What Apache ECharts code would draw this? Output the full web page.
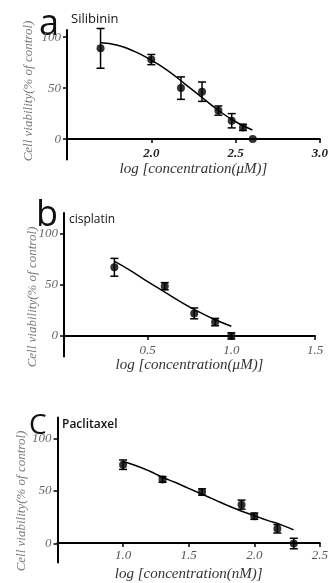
<!DOCTYPE html>
<html>
<head>
<meta charset="utf-8">
<script src="https://cdn.jsdelivr.net/npm/echarts@6/dist/echarts.min.js"></script>
<style>
html, body { margin: 0; padding: 0; background: #fff; }
#chart { width: 331px; height: 583px; }
</style>
</head>
<body>
<div id="chart"></div>
<script>
// a: silibinin, log uM
var silX = [1.699, 2.0, 2.176, 2.301, 2.398, 2.477, 2.544, 2.602];
var silY = [89, 78, 50, 46.5, 28, 18, 11.5, 0];
var silErr = [19.5, 5, 11, 9.5, 4.5, 7, 3, 0];
var silFitX = [1.7, 1.8, 1.9, 2.0, 2.1, 2.2, 2.3, 2.4, 2.5, 2.6];
var silFitY = [94.5, 92, 86, 77.5, 67, 54, 41, 28, 17, 9];
var silTicks = [2.0, 2.5, 3.0];

// b: cisplatin, log uM
var cisX = [0.301, 0.602, 0.778, 0.903, 1.0];
var cisY = [67, 48.5, 22, 13.5, 0];
var cisErr = [8.7, 3.5, 5.3, 3.6, 3];
var cisFitX = [0.3, 0.4, 0.5, 0.6, 0.7, 0.8, 0.9, 1.0];
var cisFitY = [73, 63.5, 53, 43, 33, 24, 16, 9.5];
var cisTicks = [0.5, 1.0, 1.5];

// c: paclitaxel, log nM
var pacX = [1.0, 1.301, 1.602, 1.903, 2.0, 2.176, 2.301];
var pacY = [75, 61, 49, 37, 26, 14, 0];
var pacErr = [4.5, 2.7, 3, 4.3, 3, 4, 5];
var pacFitX = [1.0, 1.1, 1.2, 1.3, 1.4, 1.5, 1.6, 1.7, 1.8, 1.9, 2.0, 2.1, 2.2, 2.3];
var pacFitY = [78, 74, 69, 63, 58, 52.5, 47, 41.5, 36, 31, 26.5, 22, 18, 13];
var pacTicks = [1.0, 1.5, 2.0, 2.5];

var yTicks = [0, 50, 100];
var yName = 'Cell viability(% of control)';

var grids = [
    { left: 67, top: 30, width: 253, height: 129.5 },
    { left: 64, top: 213, width: 251, height: 143.4 },
    { left: 57.5, top: 417.4, width: 266.5, height: 149 }
];
var yRanges = [[-20, 107], [-20, 120], [-18, 120]];

var chart = echarts.init(document.getElementById('chart'));

function zip(xs, ys) {
    var out = [];
    for (var i = 0; i < xs.length; i++) out.push([xs[i], ys[i]]);
    return out;
}
function errData(xs, ys, es) {
    var out = [];
    for (var i = 0; i < xs.length; i++) {
        if (es[i] > 0) out.push([xs[i], ys[i] - es[i], ys[i] + es[i]]);
    }
    return out;
}
function renderErr(params, api) {
    var lo = api.coord([api.value(0), api.value(1)]);
    var hi = api.coord([api.value(0), api.value(2)]);
    var w = 4;
    var st = { stroke: '#000', lineWidth: 1.5 };
    return {
        type: 'group',
        children: [
            { type: 'line', shape: { x1: lo[0], y1: lo[1], x2: hi[0], y2: hi[1] }, style: st },
            { type: 'line', shape: { x1: lo[0] - w, y1: lo[1], x2: lo[0] + w, y2: lo[1] }, style: st },
            { type: 'line', shape: { x1: hi[0] - w, y1: hi[1], x2: hi[0] + w, y2: hi[1] }, style: st }
        ]
    };
}

var serif = 'Liberation Serif';

// x axis sits on the y=0 line: shift it up from the grid bottom
function xAxisFor(idx, min, max, ticks, name, bold, margin, nameGap) {
    var r = yRanges[idx];
    var off = -grids[idx].height * (0 - r[0]) / (r[1] - r[0]);
    return {
        type: 'value', gridIndex: idx, min: min, max: max, offset: off,
        axisLine: { onZero: false, lineStyle: { color: '#000', width: 2 } },
        axisTick: { length: 4, customValues: ticks, lineStyle: { color: '#000', width: 1.5 } },
        axisLabel: {
            customValues: ticks, margin: margin,
            fontFamily: serif, fontStyle: 'italic', fontWeight: bold ? 'bold' : 'normal',
            fontSize: 13, color: bold ? '#222' : '#555',
            formatter: function (v) { return v.toFixed(1); }
        },
        splitLine: { show: false },
        name: name, nameLocation: 'middle', nameGap: nameGap,
        nameTextStyle: { fontFamily: serif, fontStyle: 'italic', fontSize: 15, color: '#333' }
    };
}
function yAxisFor(idx) {
    return {
        type: 'value', gridIndex: idx, min: yRanges[idx][0], max: yRanges[idx][1],
        axisLine: { onZero: false, lineStyle: { color: '#000', width: 2 } },
        axisTick: { length: 4, customValues: yTicks, lineStyle: { color: '#000', width: 1.5 } },
        axisLabel: {
            customValues: yTicks, margin: 6,
            fontFamily: serif, fontStyle: 'italic', fontSize: 13, color: '#666'
        },
        splitLine: { show: false }
    };
}

function panelSeries(idx, xs, ys, es, fx, fy) {
    return [
        {
            type: 'line', xAxisIndex: idx, yAxisIndex: idx, data: zip(fx, fy),
            smooth: true, showSymbol: false, silent: true,
            lineStyle: { color: '#000', width: 1.5 }
        },
        {
            type: 'custom', xAxisIndex: idx, yAxisIndex: idx,
            data: errData(xs, ys, es), renderItem: renderErr
        },
        {
            type: 'scatter', xAxisIndex: idx, yAxisIndex: idx, data: zip(xs, ys),
            symbolSize: 8, itemStyle: { color: '#000' }
        }
    ];
}

function label(x, y, text, size, weight) {
    return {
        type: 'text', left: x, top: y,
        style: { text: text, fontFamily: 'Open Sans', fontSize: size, fontWeight: weight || 'normal', fill: '#111' }
    };
}
function yLabel(x, y) {
    return {
        type: 'text', x: x, y: y, rotation: Math.PI / 2,
        style: {
            text: yName, fontFamily: serif, fontStyle: 'italic', fontSize: 13,
            fill: '#777', align: 'center', verticalAlign: 'middle'
        }
    };
}

var option = {
    animation: false,
    grid: grids,
    xAxis: [
        xAxisFor(0, 1.5, 3.0, silTicks, 'log [concentration(\u03bcM)]', true, 8, 22),
        xAxisFor(1, 0, 1.5, cisTicks, 'log [concentration(\u03bcM)]', false, 8, 20),
        xAxisFor(2, 0.5, 2.5, pacTicks, 'log [concentration(nM)]', false, 6, 24)
    ],
    yAxis: [yAxisFor(0), yAxisFor(1), yAxisFor(2)],
    series: [].concat(
        panelSeries(0, silX, silY, silErr, silFitX, silFitY),
        panelSeries(1, cisX, cisY, cisErr, cisFitX, cisFitY),
        panelSeries(2, pacX, pacY, pacErr, pacFitX, pacFitY)
    ),
    graphic: [
        label(39, 7, 'a', 36),
        label(71, 13, 'Silibinin', 13),
        label(36, 198, 'b', 36),
        label(69, 214, 'cisplatin', 12),
        label(29, 412, 'C', 28),
        label(62, 419, 'Paclitaxel', 12, 600),
        yLabel(29, 91),
        yLabel(33, 297),
        yLabel(22, 501)
    ]
};
chart.setOption(option);
</script>
</body>
</html>
